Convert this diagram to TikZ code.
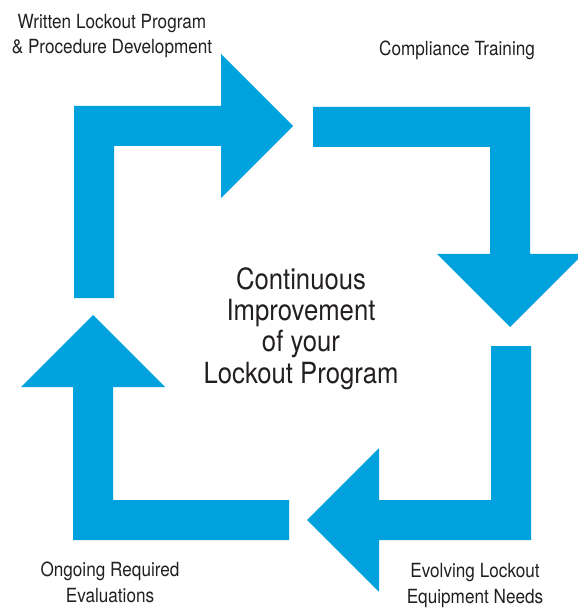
\documentclass[tikz,border=0pt]{standalone}
\usepackage{fontspec}
\setmainfont{TeX Gyre Heros}[FakeStretch=0.88]
\definecolor{cycleblue}{RGB}{0,162,222}
\definecolor{labelgray}{RGB}{35,31,32}
\begin{document}
\begin{tikzpicture}[x=0.5pt, y=-0.5pt,
    blockarrow/.style={fill=cycleblue, draw=none},
    steplabel/.style={text=labelgray, align=center, anchor=base, inner sep=0pt,
        font=\fontsize{9.75}{12.7}\selectfont},
    centerlabel/.style={text=labelgray, align=center, anchor=base, inner sep=0pt,
        font=\fontsize{14.6}{15.6}\selectfont}]
    \useasboundingbox (0, 0) rectangle (577, 608);

    % Arrows
    \fill[blockarrow] (74, 298) -- (74, 106) -- (221, 106) -- (221, 54) -- (293, 126)
        -- (221, 198) -- (221, 146) -- (114, 146) -- (114, 298) -- cycle;
    \fill[blockarrow] (313, 107) -- (530, 107) -- (530, 254) -- (583, 254) -- (510, 327)
        -- (437, 254) -- (490, 254) -- (490, 147) -- (313, 147) -- cycle;
    \fill[blockarrow] (531, 346) -- (531, 540) -- (379, 540) -- (379, 592) -- (307, 520)
        -- (379, 448) -- (379, 500) -- (491, 500) -- (491, 346) -- cycle;
    \fill[blockarrow] (289, 500) -- (289, 540) -- (73, 540) -- (73, 387) -- (21, 387)
        -- (93, 315) -- (165, 387) -- (113, 387) -- (113, 500) -- cycle;

    % Labels (placed at the baseline of the last line)
    \node[steplabel] (written) at (112, 54) {Written Lockout Program\\ \& Procedure Development};
    \node[steplabel] (training) at (457, 56) {Compliance Training};
    \node[steplabel] (evolving) at (475, 603) {Evolving Lockout\\ Equipment Needs};
    \node[steplabel] (ongoing) at (110, 602) {Ongoing Required\\ Evaluations};

    % Center text
    \node[centerlabel] (improve) at (301, 383) {Continuous\\ Improvement\\ of your\\ Lockout Program};
\end{tikzpicture}
\end{document}
